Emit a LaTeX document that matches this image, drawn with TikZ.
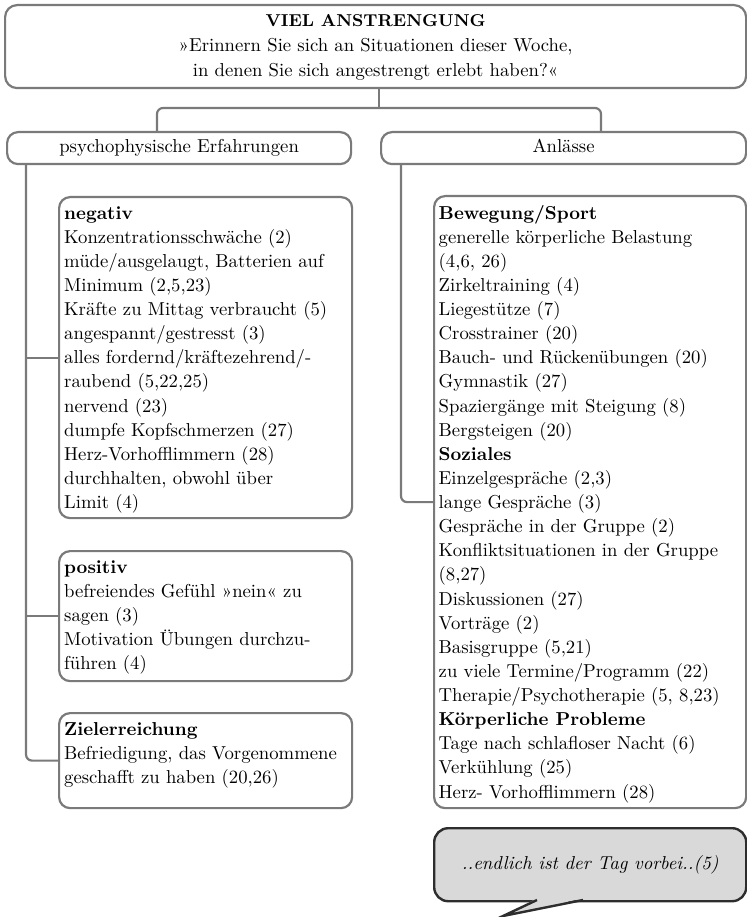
\documentclass[tikz,border=0pt]{standalone}
\usetikzlibrary{calc}
\definecolor{linegray}{RGB}{122,122,122}
\definecolor{bubblefill}{RGB}{217,217,217}
\definecolor{bubbleline}{RGB}{45,45,45}
\newcommand{\lmleft}[1]{\scalebox{1.87}{\fontsize{10}{12.9}\selectfont\begin{tabular}{@{}l@{}}#1\end{tabular}}}
\newcommand{\lmcenter}[2]{\scalebox{1.87}{\fontsize{10}{#1}\selectfont\begin{tabular}{@{}c@{}}#2\end{tabular}}}
\begin{document}
\begin{tikzpicture}[x=1pt,y=-1pt,
  box/.style={draw=linegray, line width=2.2pt, rounded corners=11pt, inner sep=0pt, anchor=north west},
  conn/.style={draw=linegray, line width=2.2pt},
  txt/.style={inner sep=0pt, anchor=north west},
  bubble/.style={draw=bubbleline, fill=bubblefill, line width=2.4pt, rounded corners=14pt, inner sep=0pt, anchor=north west},
]
\useasboundingbox (0,0) rectangle (746,917);

% boxes
\node[box, rounded corners=12pt, minimum width=741pt, minimum height=83pt] (top) at (4,4)
  {\lmcenter{13.37}{{\fontsize{9.2}{13.37}\selectfont\bfseries VIEL ANSTRENGUNG}\\ »Erinnern Sie sich an Situationen dieser Woche,\\ in denen Sie sich angestrengt erlebt haben?«}};
\node[box, minimum width=344pt, minimum height=32pt] (psy) at (6,131) {\lmcenter{12.9}{psychophysische Erfahrungen}};
\node[box, minimum width=365pt, minimum height=32pt] (anl) at (380,131) {\lmcenter{12.9}{Anlässe}};
\node[box, minimum width=293pt, minimum height=321pt] (neg) at (58,196) {};
\node[box, minimum width=293pt, minimum height=130pt] (pos) at (58,550) {};
\node[box, minimum width=293pt, minimum height=95pt] (zie) at (58,712) {};
\node[box, minimum width=312pt, minimum height=612pt] (bew) at (433,195) {};

% connectors
\coordinate (j) at (379,108);
\coordinate (bl) at (157,108);
\coordinate (br) at (601,108);
\coordinate (lx) at (26,0);
\coordinate (rx) at (401,0);
\draw[conn] (top.south -| j) -- (j);
\draw[conn, rounded corners=6pt] (psy.north -| bl) |- (j) -| (anl.north -| br);
\draw[conn, rounded corners=6pt] (psy.south -| lx) |- (zie.west);
\draw[conn] (lx |- neg.west) -- (neg.west);
\draw[conn] (lx |- pos.west) -- (pos.west);
\draw[conn, rounded corners=6pt] (anl.south -| rx) |- (bew.west);

% texts
\node[txt] (negt) at ([shift={(6,6)}]neg.north west) {\lmleft{\textbf{negativ}\\
Konzentrationsschwäche (2)\\
müde/ausgelaugt, Batterien auf\\
Minimum (2,5,23)\\
Kräfte zu Mittag verbraucht (5)\\
angespannt/gestresst (3)\\
alles fordernd/kräftezehrend/-\\
raubend (5,22,25)\\
nervend (23)\\
dumpfe Kopfschmerzen (27)\\
Herz-Vorhofflimmern (28)\\
durchhalten, obwohl über\\
Limit (4)}};
\node[txt] (post) at ([shift={(6,6)}]pos.north west) {\lmleft{\textbf{positiv}\\
befreiendes Gefühl »nein« zu\\
sagen (3)\\
Motivation Übungen durchzu-\\
führen (4)}};
\node[txt] (ziet) at ([shift={(6,6.5)}]zie.north west) {\lmleft{\textbf{Zielerreichung}\\
Befriedigung, das Vorgenommene\\
geschafft zu haben (20,26)}};
\node[txt] (bewt) at ([shift={(5.5,7)}]bew.north west) {\lmleft{\textbf{Bewegung/Sport}\\
generelle körperliche Belastung\\
(4,6, 26)\\
Zirkeltraining (4)\\
Liegestütze (7)\\
Crosstrainer (20)\\
Bauch- und Rückenübungen (20)\\
Gymnastik (27)\\
Spaziergänge mit Steigung (8)\\
Bergsteigen (20)\\
\textbf{Soziales}\\
Einzelgespräche (2,3)\\
lange Gespräche (3)\\
Gespräche in der Gruppe (2)\\
Konfliktsituationen in der Gruppe\\
(8,27)\\
Diskussionen (27)\\
Vorträge (2)\\
Basisgruppe (5,21)\\
zu viele Termine/Programm (22)\\
Therapie/Psychotherapie (5, 8,23)\\
\textbf{Körperliche Probleme}\\
Tage nach schlafloser Nacht (6)\\
Verkühlung (25)\\
Herz- Vorhofflimmern (28)}};

% speech bubble
\node[bubble, minimum width=312pt, minimum height=73pt] (bub) at (433,827) {\lmcenter{12.9}{\itshape ..endlich ist der Tag vorbei..(5)}};
\coordinate (t1) at (537,900);
\coordinate (t2) at (583,900);
\coordinate (tp) at (503,916);
\fill[bubblefill] ([yshift=1.6pt]t1) -- (tp) -- ([yshift=1.6pt]t2) -- cycle;
\draw[draw=bubbleline, line width=2.4pt, line join=miter] (t1) -- (tp) -- (t2);
\end{tikzpicture}
\end{document}
